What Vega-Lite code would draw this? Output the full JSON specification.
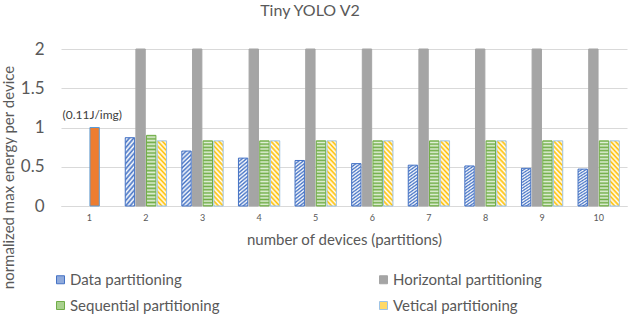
{
  "$schema": "https://vega.github.io/schema/vega-lite/v6.json",
  "autosize": "none",
  "width": 566,
  "height": 157,
  "padding": {"left": 61, "top": 49, "right": 13, "bottom": 121},
  "background": "white",
  "config": {
    "font": "Lato",
    "view": {"stroke": null},
    "axis": {"labelColor": "#595959", "titleColor": "#595959", "titleFontWeight": "normal", "labelFont": "Lato", "titleFont": "Lato"},
    "legend": {"labelColor": "#595959", "labelFont": "Lato"}
  },
  "title": {"text": "Tiny YOLO V2", "fontSize": 16, "fontWeight": "normal", "color": "#595959", "dx": -34, "offset": 21, "font": "Lato"},
  "encoding": {
    "x": {
      "field": "n", "type": "ordinal",
      "scale": {"paddingInner": 0.27, "paddingOuter": 0.135},
      "axis": {
        "labelAngle": 0, "labelFontSize": 9, "labelPadding": 7,
        "ticks": false, "domainColor": "#d9d9d9", "grid": false,
        "title": "number of devices (partitions)", "titleFontSize": 15,
        "titleY": 26, "titleBaseline": "top"
      }
    },
    "y": {
      "field": "value", "type": "quantitative",
      "scale": {"domain": [0, 2]},
      "axis": {
        "values": [0, 0.5, 1, 1.5, 2], "format": "~g", "labelOverlap": false, "labelFontSize": 17, "labelPadding": 17,
        "ticks": false, "domain": false, "gridColor": "#d9d9d9",
        "title": "normalized max energy per device", "titleFontSize": 15,
        "titleX": -53, "titleY": 128, "titleAlign": "center", "titleBaseline": "middle", "titleAngle": -90
      }
    }
  },
  "layer": [
    {
      "data": {"values": [
        {"n": 1, "series": "Single device", "slot": "Sequential partitioning", "value": 1.0},
        {"n": 2, "series": "Data partitioning", "slot": "Data partitioning", "value": 0.87},
        {"n": 3, "series": "Data partitioning", "slot": "Data partitioning", "value": 0.70},
        {"n": 4, "series": "Data partitioning", "slot": "Data partitioning", "value": 0.61},
        {"n": 5, "series": "Data partitioning", "slot": "Data partitioning", "value": 0.58},
        {"n": 6, "series": "Data partitioning", "slot": "Data partitioning", "value": 0.54},
        {"n": 7, "series": "Data partitioning", "slot": "Data partitioning", "value": 0.52},
        {"n": 8, "series": "Data partitioning", "slot": "Data partitioning", "value": 0.51},
        {"n": 9, "series": "Data partitioning", "slot": "Data partitioning", "value": 0.48},
        {"n": 10, "series": "Data partitioning", "slot": "Data partitioning", "value": 0.47},
        {"n": 2, "series": "Horizontal partitioning", "slot": "Horizontal partitioning", "value": 2.0},
        {"n": 3, "series": "Horizontal partitioning", "slot": "Horizontal partitioning", "value": 2.0},
        {"n": 4, "series": "Horizontal partitioning", "slot": "Horizontal partitioning", "value": 2.0},
        {"n": 5, "series": "Horizontal partitioning", "slot": "Horizontal partitioning", "value": 2.0},
        {"n": 6, "series": "Horizontal partitioning", "slot": "Horizontal partitioning", "value": 2.0},
        {"n": 7, "series": "Horizontal partitioning", "slot": "Horizontal partitioning", "value": 2.0},
        {"n": 8, "series": "Horizontal partitioning", "slot": "Horizontal partitioning", "value": 2.0},
        {"n": 9, "series": "Horizontal partitioning", "slot": "Horizontal partitioning", "value": 2.0},
        {"n": 10, "series": "Horizontal partitioning", "slot": "Horizontal partitioning", "value": 2.0},
        {"n": 2, "series": "Sequential partitioning", "slot": "Sequential partitioning", "value": 0.90},
        {"n": 3, "series": "Sequential partitioning", "slot": "Sequential partitioning", "value": 0.83},
        {"n": 4, "series": "Sequential partitioning", "slot": "Sequential partitioning", "value": 0.83},
        {"n": 5, "series": "Sequential partitioning", "slot": "Sequential partitioning", "value": 0.83},
        {"n": 6, "series": "Sequential partitioning", "slot": "Sequential partitioning", "value": 0.83},
        {"n": 7, "series": "Sequential partitioning", "slot": "Sequential partitioning", "value": 0.83},
        {"n": 8, "series": "Sequential partitioning", "slot": "Sequential partitioning", "value": 0.83},
        {"n": 9, "series": "Sequential partitioning", "slot": "Sequential partitioning", "value": 0.83},
        {"n": 10, "series": "Sequential partitioning", "slot": "Sequential partitioning", "value": 0.83},
        {"n": 2, "series": "Vetical partitioning", "slot": "Vetical partitioning", "value": 0.83},
        {"n": 3, "series": "Vetical partitioning", "slot": "Vetical partitioning", "value": 0.83},
        {"n": 4, "series": "Vetical partitioning", "slot": "Vetical partitioning", "value": 0.83},
        {"n": 5, "series": "Vetical partitioning", "slot": "Vetical partitioning", "value": 0.83},
        {"n": 6, "series": "Vetical partitioning", "slot": "Vetical partitioning", "value": 0.83},
        {"n": 7, "series": "Vetical partitioning", "slot": "Vetical partitioning", "value": 0.83},
        {"n": 8, "series": "Vetical partitioning", "slot": "Vetical partitioning", "value": 0.83},
        {"n": 9, "series": "Vetical partitioning", "slot": "Vetical partitioning", "value": 0.83},
        {"n": 10, "series": "Vetical partitioning", "slot": "Vetical partitioning", "value": 0.83}
      ]},
      "mark": {"type": "bar", "strokeWidth": 1},
      "encoding": {
        "xOffset": {
          "field": "slot", "type": "nominal",
          "scale": {"domain": ["Data partitioning", "Horizontal partitioning", "Sequential partitioning", "Vetical partitioning"], "paddingInner": 0.12}
        },
        "fill": {
          "field": "series", "type": "nominal",
          "scale": {
            "domain": ["Data partitioning", "Horizontal partitioning", "Sequential partitioning", "Vetical partitioning", "Single device"],
            "range": ["#8faadc", "#a5a5a5", "#a9d18e", "#ffd966", "#ed7d31"]
          },
          "condition": [
            {"test": "datum.series === 'Data partitioning'", "value": {"gradient": "linear", "x1": 0, "y1": 0, "x2": 0.185, "y2": 1.13, "stops": [
              {"offset": 0, "color": "#4472c4"}, {"offset": 0.033, "color": "#ffffff"}, {"offset": 0.067, "color": "#4472c4"}, {"offset": 0.1, "color": "#ffffff"},
              {"offset": 0.133, "color": "#4472c4"}, {"offset": 0.167, "color": "#ffffff"}, {"offset": 0.2, "color": "#4472c4"}, {"offset": 0.233, "color": "#ffffff"},
              {"offset": 0.267, "color": "#4472c4"}, {"offset": 0.3, "color": "#ffffff"}, {"offset": 0.333, "color": "#4472c4"}, {"offset": 0.367, "color": "#ffffff"},
              {"offset": 0.4, "color": "#4472c4"}, {"offset": 0.433, "color": "#ffffff"}, {"offset": 0.467, "color": "#4472c4"}, {"offset": 0.5, "color": "#ffffff"},
              {"offset": 0.533, "color": "#4472c4"}, {"offset": 0.567, "color": "#ffffff"}, {"offset": 0.6, "color": "#4472c4"}, {"offset": 0.633, "color": "#ffffff"},
              {"offset": 0.667, "color": "#4472c4"}, {"offset": 0.7, "color": "#ffffff"}, {"offset": 0.733, "color": "#4472c4"}, {"offset": 0.767, "color": "#ffffff"},
              {"offset": 0.8, "color": "#4472c4"}, {"offset": 0.833, "color": "#ffffff"}, {"offset": 0.867, "color": "#4472c4"}, {"offset": 0.9, "color": "#ffffff"},
              {"offset": 0.933, "color": "#4472c4"}, {"offset": 0.967, "color": "#ffffff"}, {"offset": 1, "color": "#4472c4"}
            ]}},
            {"test": "datum.series === 'Sequential partitioning'", "value": {"gradient": "linear", "x1": 0, "y1": 0, "x2": 0, "y2": 1, "stops": [
              {"offset": 0, "color": "#70ad47"}, {"offset": 0.025, "color": "#e2f0d9"}, {"offset": 0.05, "color": "#70ad47"}, {"offset": 0.075, "color": "#e2f0d9"},
              {"offset": 0.1, "color": "#70ad47"}, {"offset": 0.125, "color": "#e2f0d9"}, {"offset": 0.15, "color": "#70ad47"}, {"offset": 0.175, "color": "#e2f0d9"},
              {"offset": 0.2, "color": "#70ad47"}, {"offset": 0.225, "color": "#e2f0d9"}, {"offset": 0.25, "color": "#70ad47"}, {"offset": 0.275, "color": "#e2f0d9"},
              {"offset": 0.3, "color": "#70ad47"}, {"offset": 0.325, "color": "#e2f0d9"}, {"offset": 0.35, "color": "#70ad47"}, {"offset": 0.375, "color": "#e2f0d9"},
              {"offset": 0.4, "color": "#70ad47"}, {"offset": 0.425, "color": "#e2f0d9"}, {"offset": 0.45, "color": "#70ad47"}, {"offset": 0.475, "color": "#e2f0d9"},
              {"offset": 0.5, "color": "#70ad47"}, {"offset": 0.525, "color": "#e2f0d9"}, {"offset": 0.55, "color": "#70ad47"}, {"offset": 0.575, "color": "#e2f0d9"},
              {"offset": 0.6, "color": "#70ad47"}, {"offset": 0.625, "color": "#e2f0d9"}, {"offset": 0.65, "color": "#70ad47"}, {"offset": 0.675, "color": "#e2f0d9"},
              {"offset": 0.7, "color": "#70ad47"}, {"offset": 0.725, "color": "#e2f0d9"}, {"offset": 0.75, "color": "#70ad47"}, {"offset": 0.775, "color": "#e2f0d9"},
              {"offset": 0.8, "color": "#70ad47"}, {"offset": 0.825, "color": "#e2f0d9"}, {"offset": 0.85, "color": "#70ad47"}, {"offset": 0.875, "color": "#e2f0d9"},
              {"offset": 0.9, "color": "#70ad47"}, {"offset": 0.925, "color": "#e2f0d9"}, {"offset": 0.95, "color": "#70ad47"}, {"offset": 0.975, "color": "#e2f0d9"},
              {"offset": 1, "color": "#70ad47"}
            ]}},
            {"test": "datum.series === 'Vetical partitioning'", "value": {"gradient": "linear", "x1": 0, "y1": 1, "x2": 0.174, "y2": -0.13, "stops": [
              {"offset": 0, "color": "#ffc000"}, {"offset": 0.033, "color": "#ffffff"}, {"offset": 0.067, "color": "#ffc000"}, {"offset": 0.1, "color": "#ffffff"},
              {"offset": 0.133, "color": "#ffc000"}, {"offset": 0.167, "color": "#ffffff"}, {"offset": 0.2, "color": "#ffc000"}, {"offset": 0.233, "color": "#ffffff"},
              {"offset": 0.267, "color": "#ffc000"}, {"offset": 0.3, "color": "#ffffff"}, {"offset": 0.333, "color": "#ffc000"}, {"offset": 0.367, "color": "#ffffff"},
              {"offset": 0.4, "color": "#ffc000"}, {"offset": 0.433, "color": "#ffffff"}, {"offset": 0.467, "color": "#ffc000"}, {"offset": 0.5, "color": "#ffffff"},
              {"offset": 0.533, "color": "#ffc000"}, {"offset": 0.567, "color": "#ffffff"}, {"offset": 0.6, "color": "#ffc000"}, {"offset": 0.633, "color": "#ffffff"},
              {"offset": 0.667, "color": "#ffc000"}, {"offset": 0.7, "color": "#ffffff"}, {"offset": 0.733, "color": "#ffc000"}, {"offset": 0.767, "color": "#ffffff"},
              {"offset": 0.8, "color": "#ffc000"}, {"offset": 0.833, "color": "#ffffff"}, {"offset": 0.867, "color": "#ffc000"}, {"offset": 0.9, "color": "#ffffff"},
              {"offset": 0.933, "color": "#ffc000"}, {"offset": 0.967, "color": "#ffffff"}, {"offset": 1, "color": "#ffc000"}
            ]}}
          ],
          "legend": {
            "values": ["Data partitioning", "Horizontal partitioning", "Sequential partitioning", "Vetical partitioning"],
            "title": null, "orient": "none", "legendX": -8, "legendY": 223,
            "direction": "horizontal", "columns": 2, "columnPadding": 156, "rowPadding": 10,
            "labelFontSize": 15, "labelLimit": 300, "labelOffset": 2,
            "symbolType": "square", "symbolSize": 64, "symbolStrokeWidth": 1,
            "encode": {
              "symbols": {
                "update": {
                  "fill": [
                    {"test": "datum.value === 'Data partitioning'", "value": {"gradient": "linear", "x1": 0, "y1": 1, "x2": 1, "y2": 0, "stops": [
                      {"offset": 0, "color": "#4472c4"}, {"offset": 0.167, "color": "#ffffff"}, {"offset": 0.333, "color": "#4472c4"}, {"offset": 0.5, "color": "#ffffff"},
                      {"offset": 0.667, "color": "#4472c4"}, {"offset": 0.833, "color": "#ffffff"}, {"offset": 1, "color": "#4472c4"}
                    ]}},
                    {"test": "datum.value === 'Sequential partitioning'", "value": {"gradient": "linear", "x1": 0, "y1": 0, "x2": 0, "y2": 1, "stops": [
                      {"offset": 0, "color": "#70ad47"}, {"offset": 0.25, "color": "#ffffff"}, {"offset": 0.5, "color": "#70ad47"}, {"offset": 0.75, "color": "#ffffff"}, {"offset": 1, "color": "#70ad47"}
                    ]}},
                    {"test": "datum.value === 'Vetical partitioning'", "value": {"gradient": "linear", "x1": 0, "y1": 0, "x2": 1, "y2": 1, "stops": [
                      {"offset": 0, "color": "#ffc000"}, {"offset": 0.167, "color": "#ffffff"}, {"offset": 0.333, "color": "#ffc000"}, {"offset": 0.5, "color": "#ffffff"},
                      {"offset": 0.667, "color": "#ffc000"}, {"offset": 0.833, "color": "#ffffff"}, {"offset": 1, "color": "#ffc000"}
                    ]}},
                    {"value": "#a5a5a5"}
                  ],
                  "stroke": [
                    {"test": "datum.value === 'Data partitioning'", "value": "#4472c4"},
                    {"test": "datum.value === 'Sequential partitioning'", "value": "#70ad47"},
                    {"test": "datum.value === 'Vetical partitioning'", "value": "#9dc3e6"},
                    {"value": "#a5a5a5"}
                  ]
                }
              }
            }
          }
        },
        "stroke": {
          "field": "series", "type": "nominal",
          "scale": {
            "domain": ["Data partitioning", "Horizontal partitioning", "Sequential partitioning", "Vetical partitioning", "Single device"],
            "range": ["#4472c4", "#a5a5a5", "#70ad47", "#9dc3e6", "#5b9bd5"]
          },
          "legend": null
        }
      }
    },
    {
      "data": {"values": [{"n": 1, "value": 1.16, "label": "(0.11J/img)"}]},
      "mark": {"type": "text", "fontSize": 12, "color": "#404040", "dx": 3, "baseline": "middle"},
      "encoding": {
        "text": {"field": "label"}
      }
    }
  ]
}
